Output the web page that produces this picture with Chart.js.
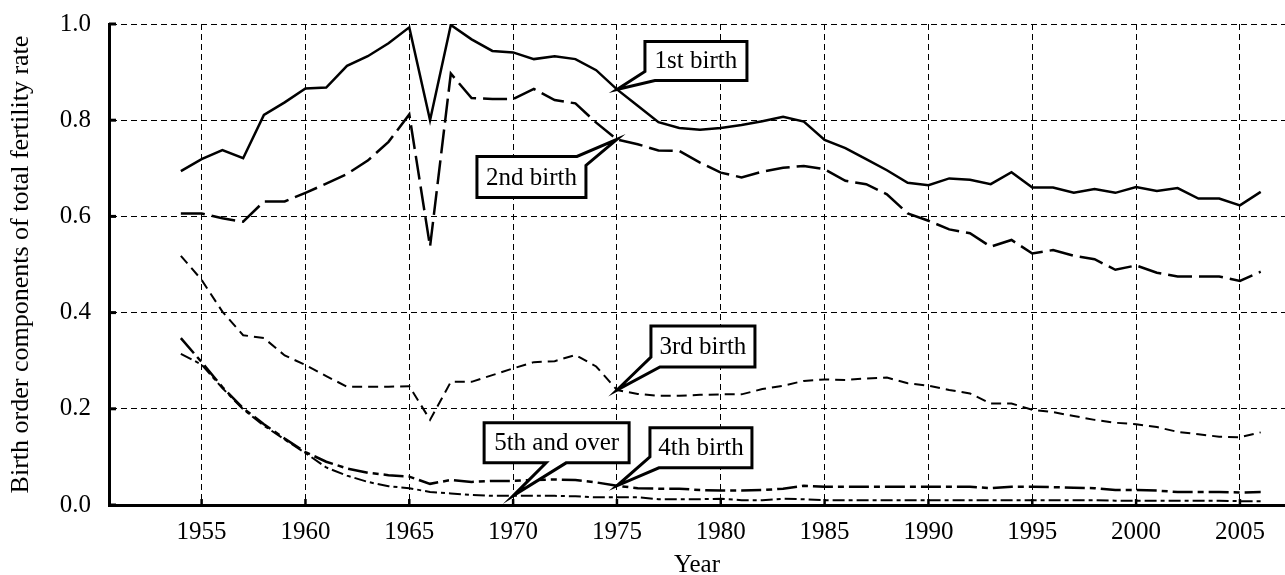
<!DOCTYPE html>
<html>
<head>
<meta charset="utf-8">
<script src="https://cdn.jsdelivr.net/npm/chart.js@4.4.0/dist/chart.umd.min.js"></script>
<style>
  html, body { margin: 0; padding: 0; background: #fff; }
  #wrap { width: 1285px; height: 575px; }
</style>
</head>
<body>
<div id="wrap"><canvas id="birthChart" width="1285" height="575"></canvas></div>
<script>
// years 1954 - 2006
const years = [
  1954, 1955, 1956, 1957, 1958, 1959, 1960, 1961, 1962, 1963,
  1964, 1965, 1966, 1967, 1968, 1969, 1970, 1971, 1972, 1973,
  1974, 1975, 1976, 1977, 1978, 1979, 1980, 1981, 1982, 1983,
  1984, 1985, 1986, 1987, 1988, 1989, 1990, 1991, 1992, 1993,
  1994, 1995, 1996, 1997, 1998, 1999, 2000, 2001, 2002, 2003,
  2004, 2005, 2006
];

const firstBirth = [
  0.694, 0.719, 0.738, 0.721, 0.811, 0.837, 0.866, 0.868, 0.913, 0.933,
  0.960, 0.993, 0.800, 0.998, 0.968, 0.944, 0.941, 0.927, 0.933, 0.927,
  0.904, 0.864, 0.830, 0.796, 0.784, 0.780, 0.784, 0.790, 0.798, 0.807,
  0.797, 0.759, 0.742, 0.719, 0.696, 0.670, 0.665, 0.679, 0.676, 0.667,
  0.692, 0.660, 0.660, 0.649, 0.657, 0.649, 0.661, 0.653, 0.659, 0.637,
  0.637, 0.623, 0.651
];

const secondBirth = [
  0.606, 0.606, 0.596, 0.589, 0.631, 0.631, 0.649, 0.668, 0.688, 0.716,
  0.755, 0.812, 0.537, 0.897, 0.846, 0.844, 0.844, 0.865, 0.842, 0.835,
  0.795, 0.760, 0.750, 0.737, 0.736, 0.712, 0.691, 0.681, 0.693, 0.701,
  0.705, 0.698, 0.674, 0.667, 0.646, 0.606, 0.591, 0.573, 0.565, 0.537,
  0.551, 0.523, 0.530, 0.518, 0.511, 0.489, 0.498, 0.483, 0.475, 0.475,
  0.475, 0.466, 0.485
];

const thirdBirth = [
  0.518, 0.468, 0.402, 0.353, 0.347, 0.311, 0.291, 0.268, 0.246, 0.246,
  0.246, 0.247, 0.177, 0.256, 0.256, 0.270, 0.284, 0.297, 0.299, 0.312,
  0.288, 0.239, 0.231, 0.227, 0.227, 0.229, 0.230, 0.230, 0.241, 0.248,
  0.258, 0.261, 0.260, 0.263, 0.265, 0.253, 0.248, 0.239, 0.232, 0.211,
  0.211, 0.198, 0.193, 0.185, 0.177, 0.171, 0.168, 0.162, 0.152, 0.147,
  0.142, 0.141, 0.151
];

const fourthBirth = [
  0.347, 0.297, 0.245, 0.201, 0.168, 0.138, 0.110, 0.090, 0.076, 0.067,
  0.062, 0.059, 0.044, 0.052, 0.048, 0.050, 0.050, 0.052, 0.053, 0.052,
  0.047, 0.040, 0.035, 0.034, 0.034, 0.031, 0.030, 0.030, 0.031, 0.034,
  0.040, 0.038, 0.038, 0.038, 0.038, 0.038, 0.038, 0.038, 0.038, 0.035,
  0.038, 0.038, 0.037, 0.036, 0.035, 0.031, 0.031, 0.030, 0.027, 0.027,
  0.027, 0.026, 0.027
];

const fifthOver = [
  0.314, 0.292, 0.243, 0.199, 0.165, 0.136, 0.108, 0.078, 0.061, 0.048,
  0.039, 0.035, 0.027, 0.024, 0.021, 0.019, 0.019, 0.019, 0.019, 0.018,
  0.016, 0.016, 0.016, 0.012, 0.012, 0.012, 0.013, 0.010, 0.010, 0.013,
  0.012, 0.010, 0.010, 0.010, 0.010, 0.010, 0.010, 0.010, 0.010, 0.010,
  0.010, 0.010, 0.010, 0.010, 0.010, 0.009, 0.009, 0.009, 0.009, 0.009,
  0.009, 0.008, 0.008
];

const xTicks = [1955, 1960, 1965, 1970, 1975, 1980, 1985, 1990, 1995, 2000, 2005];

const toPoints = (vals) => vals.map((v, i) => ({ x: years[i], y: v }));

// callout boxes: offset of box from the pointed data point, and outline path
const callouts = [
  { text: "1st birth", data: firstBirth, year: 1975, dx: 28, dy: -48, w: 102, h: 39,
    path: [[0, 0], [102, 0], [102, 39], [10, 39], "tip", [0, 30]] },
  { text: "2nd birth", data: secondBirth, year: 1975, dx: -140, dy: 17, w: 109, h: 41,
    path: [[0, 0], [100, 0], "tip", [109, 9], [109, 41], [0, 41]] },
  { text: "3rd birth", data: thirdBirth, year: 1975, dx: 34, dy: -64, w: 104, h: 41,
    path: [[0, 0], [104, 0], [104, 41], [9, 41], "tip", [0, 31]] },
  { text: "4th birth", data: fourthBirth, year: 1975, dx: 33, dy: -58, w: 102, h: 40,
    path: [[0, 0], [102, 0], [102, 40], [9, 40], "tip", [0, 29]] },
  { text: "5th and over", data: fifthOver, year: 1970, dx: -29, dy: -73, w: 145, h: 40,
    path: [[0, 0], [145, 0], [145, 40], [82, 40], "tip", [62, 40], [0, 40]] },
];

const serif = "'Liberation Serif', 'Times New Roman', serif";
Chart.defaults.font.family = serif;
Chart.defaults.font.size = 25;
Chart.defaults.color = "#000";

const extrasPlugin = {
  id: "extras",
  afterDatasetsDraw(chart) {
    const ctx = chart.ctx;
    const xs = chart.scales.x;
    const ys = chart.scales.y;
    const area = chart.chartArea;
    ctx.save();
    ctx.strokeStyle = "#000";
    // inward tick marks
    ctx.lineWidth = 3;
    ys.ticks.forEach((t) => {
      const y = ys.getPixelForValue(t.value);
      ctx.beginPath();
      ctx.moveTo(area.left, y);
      ctx.lineTo(area.left + 7, y);
      ctx.stroke();
    });
    ctx.lineWidth = 2.5;
    xs.ticks.forEach((t) => {
      const x = xs.getPixelForValue(t.value);
      ctx.beginPath();
      ctx.moveTo(x, area.bottom);
      ctx.lineTo(x, area.bottom - 6);
      ctx.stroke();
    });
    // callouts
    ctx.font = "25px " + serif;
    ctx.textAlign = "center";
    ctx.textBaseline = "middle";
    callouts.forEach((c) => {
      const i = years.indexOf(c.year);
      const tx = xs.getPixelForValue(c.year);
      const ty = ys.getPixelForValue(c.data[i]);
      const bx = tx + c.dx;
      const by = ty + c.dy;
      ctx.beginPath();
      c.path.forEach((p, k) => {
        const px = p === "tip" ? tx : bx + p[0];
        const py = p === "tip" ? ty : by + p[1];
        if (k === 0) ctx.moveTo(px, py);
        else ctx.lineTo(px, py);
      });
      ctx.closePath();
      ctx.fillStyle = "#fff";
      ctx.fill();
      ctx.lineWidth = 3;
      ctx.lineJoin = "miter";
      ctx.setLineDash([]);
      ctx.stroke();
      ctx.fillStyle = "#000";
      ctx.fillText(c.text, bx + c.w / 2, by + c.h / 2 + 1);
    });
    ctx.restore();
  },
};

const ctx = document.getElementById("birthChart");
const birthChart = new Chart(ctx, {
  type: "line",
  data: {
    datasets: [
      { label: "1st birth", data: toPoints(firstBirth), borderColor: "#000",
        borderWidth: 2.5, borderDash: [] },
      { label: "2nd birth", data: toPoints(secondBirth), borderColor: "#000",
        borderWidth: 2.5, borderDash: [24, 7] },
      { label: "3rd birth", data: toPoints(thirdBirth), borderColor: "#000",
        borderWidth: 2, borderDash: [10, 6] },
      { label: "4th birth", data: toPoints(fourthBirth), borderColor: "#000",
        borderWidth: 2.5, borderDash: [20, 5, 6, 5] },
      { label: "5th and over", data: toPoints(fifthOver), borderColor: "#000",
        borderWidth: 2, borderDash: [12, 4, 4, 4] },
    ],
  },
  options: {
    responsive: false,
    animation: false,
    events: [],
    layout: { padding: { top: 24, right: 0, left: 0, bottom: 0 } },
    elements: {
      point: { radius: 0 },
      line: { tension: 0, borderCapStyle: "butt", fill: false },
    },
    plugins: {
      legend: { display: false },
      tooltip: { enabled: false },
    },
    scales: {
      x: {
        type: "linear",
        min: 1950.54,
        max: 2007.17,
        afterBuildTicks: (scale) => {
          scale.ticks = xTicks.map((v) => ({ value: v }));
        },
        afterFit: (scale) => {
          scale.height = 70;
          scale.paddingLeft = 0;
          scale.paddingRight = 0;
        },
        ticks: {
          padding: 12,
          maxRotation: 0,
          autoSkip: false,
          callback: (v) => String(v),
        },
        grid: { color: "#000", lineWidth: 1, drawTicks: false },
        border: { display: true, color: "#000", width: 3, dash: [6, 4] },
        title: {
          display: true,
          text: "Year",
          font: { size: 25, lineHeight: 0.8 },
          padding: { top: 0, bottom: 0 },
        },
      },
      y: {
        min: 0,
        max: 1,
        afterFit: (scale) => {
          scale.width = 109;
          scale.paddingTop = 0;
          scale.paddingBottom = 0;
        },
        ticks: {
          stepSize: 0.2,
          padding: 18,
          callback: (v) => v.toFixed(1),
        },
        grid: { color: "#000", lineWidth: 1, drawTicks: false },
        border: { display: true, color: "#000", width: 3, dash: [6, 4] },
        title: {
          display: true,
          text: "Birth order components of total fertility rate",
          font: { size: 26, lineHeight: 1.2 },
          padding: { top: 6, bottom: 0 },
        },
      },
    },
  },
  plugins: [extrasPlugin],
});
</script>
</body>
</html>
